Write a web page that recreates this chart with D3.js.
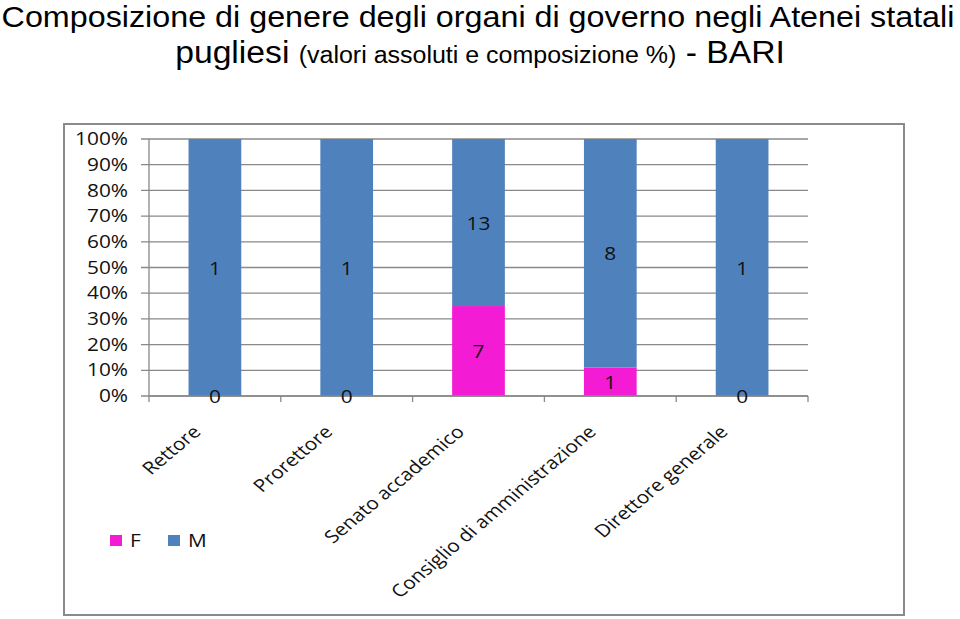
<!DOCTYPE html>
<html>
<head>
<meta charset="UTF-8">
<title>Composizione di genere - BARI</title>
<style>
html, body {
    margin: 0;
    padding: 0;
    background-color: #fff;
}
.grid line {
    stroke: #898989;
    stroke-width: 1.3;
}
.lbl {
    font-family: "Open Sans", Lato, sans-serif;
    font-size: 17.5px;
    fill: #111;
}
</style>
</head>
<body>
<div class="wrap"></div>
<script src="https://cdn.jsdelivr.net/npm/d3@7/dist/d3.min.js"></script>
<script>
let categories = ['Rettore', 'Prorettore', 'Senato accademico', 'Consiglio di amministrazione', 'Direttore generale'];
let valuesF = [0, 0, 7, 1, 0];
let valuesM = [1, 1, 13, 8, 1];
let seriesNames = ['F', 'M'];
let seriesColors = ['#F31CD4', '#4F81BD'];
let yTicks = [0, 0.1, 0.2, 0.3, 0.4, 0.5, 0.6, 0.7, 0.8, 0.9, 1];

let width = 960, height = 619;
let plot = {left: 149, right: 808, top: 139, bottom: 396};
// the source picture is a bit wider than it is tall, text gets stretched with it
let sx = 1.19;

let svg = d3.select('.wrap').append('svg')
    .attr('width', width)
    .attr('height', height);

// title, squeezed to the widths seen in the picture
function fitX(sel, cx, y, target) {
    let w = sel.node().getComputedTextLength();
    sel.attr('transform', `translate(${cx},${y}) scale(${target / w},1)`);
}

let t1 = svg.append('text')
    .attr('text-anchor', 'middle')
    .style('font-family', 'Liberation Sans, Arial, sans-serif')
    .style('font-size', '30px')
    .text('Composizione di genere degli organi di governo negli Atenei statali');
fitX(t1, 478, 27, 953);

let t2 = svg.append('text')
    .attr('text-anchor', 'middle')
    .style('font-family', 'Liberation Sans, Arial, sans-serif')
    .style('font-size', '31px');
t2.append('tspan').text('pugliesi ');
t2.append('tspan').style('font-size', '23px').text('(valori assoluti e composizione %)');
t2.append('tspan').text(' - BARI');
fitX(t2, 480, 63, 610);

// outer frame
svg.append('rect')
    .attr('x', 64).attr('y', 124)
    .attr('width', 840).attr('height', 491)
    .attr('fill', 'none')
    .attr('stroke', '#8a8a8a')
    .attr('stroke-width', 2);

let x = d3.scaleBand()
    .domain(categories)
    .range([plot.left, plot.right])
    .paddingInner(0.6)
    .paddingOuter(0.3);

let y = d3.scaleLinear()
    .domain([0, 1])
    .range([plot.bottom, plot.top]);

// gridlines + y axis
svg.append('g')
    .attr('class', 'grid')
    .selectAll('line')
    .data(yTicks)
    .join('line')
    .attr('x1', plot.left - 8)
    .attr('x2', plot.right)
    .attr('y1', d => y(d))
    .attr('y2', d => y(d));

svg.append('line')
    .attr('x1', plot.left).attr('x2', plot.left)
    .attr('y1', plot.top).attr('y2', plot.bottom)
    .attr('stroke', '#898989')
    .attr('stroke-width', 1.3);

svg.append('g')
    .selectAll('text')
    .data(yTicks)
    .join('text')
    .attr('class', 'lbl')
    .attr('transform', d => `translate(128,${y(d)}) scale(${sx},1)`)
    .attr('dy', '0.35em')
    .attr('text-anchor', 'end')
    .text(d => d3.format('.0%')(d));

// stacked percent bars
let rows = categories.map((c, i) => ({cat: c, F: valuesF[i], M: valuesM[i]}));
let stack = d3.stack().keys(seriesNames).offset(d3.stackOffsetExpand);
let layers = stack(rows);

svg.append('g')
    .selectAll('g')
    .data(layers)
    .join('g')
    .attr('fill', (d, i) => seriesColors[i])
    .selectAll('rect')
    .data(d => d)
    .join('rect')
    .attr('x', d => x(d.data.cat))
    .attr('width', x.bandwidth())
    .attr('y', d => y(d[1]))
    .attr('height', d => y(d[0]) - y(d[1]));

// category ticks
let step = (plot.right - plot.left) / categories.length;
svg.append('g')
    .selectAll('line')
    .data(d3.range(categories.length + 1))
    .join('line')
    .attr('x1', i => plot.left + i * step)
    .attr('x2', i => plot.left + i * step)
    .attr('y1', plot.bottom)
    .attr('y2', plot.bottom + 6)
    .attr('stroke', '#898989')
    .attr('stroke-width', 1.3);

svg.append('line')
    .attr('x1', plot.left).attr('x2', plot.right)
    .attr('y1', plot.bottom).attr('y2', plot.bottom)
    .attr('stroke', '#898989')
    .attr('stroke-width', 1.3);

// value labels, on top of every bar
let labels = [];
layers.forEach(layer => layer.forEach(p => labels.push({p: p, key: layer.key})));

svg.append('g')
    .selectAll('text')
    .data(labels)
    .join('text')
    .attr('class', 'lbl')
    .attr('text-anchor', 'middle')
    .attr('dy', '0.35em')
    .attr('transform', d => `translate(${x(d.p.data.cat) + x.bandwidth() / 2},${y((d.p[0] + d.p[1]) / 2) + 1}) scale(${sx},1)`)
    .text(d => d.p.data[d.key]);

// rotated category labels
svg.append('g')
    .selectAll('text')
    .data(categories)
    .join('text')
    .attr('class', 'lbl')
    .style('font-size', '17.5px')
    .attr('text-anchor', 'end')
    .attr('transform', d => `translate(${x(d) + x.bandwidth() / 2 - 13},${plot.bottom + 37}) scale(${sx},1) rotate(-45)`)
    .text(d => d);

// legend
let leg = svg.append('g')
    .selectAll('g')
    .data(seriesNames)
    .join('g')
    .attr('transform', (d, i) => `translate(${110 + i * 58},535)`);

leg.append('rect')
    .attr('width', 12)
    .attr('height', 11)
    .attr('fill', (d, i) => seriesColors[i]);

leg.append('text')
    .attr('class', 'lbl')
    .attr('transform', `translate(20,6) scale(${sx},1)`)
    .attr('dy', '0.35em')
    .text(d => d);
</script>
</body>
</html>
